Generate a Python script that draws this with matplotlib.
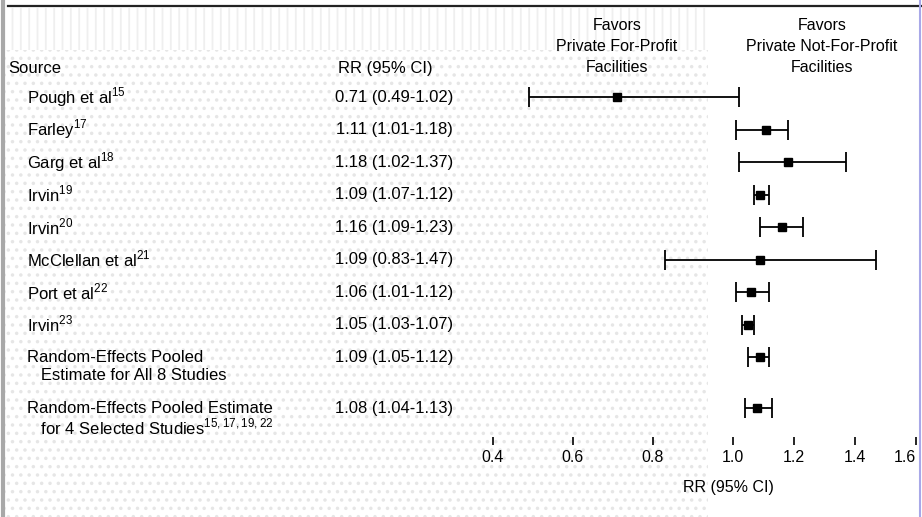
import numpy as np
import matplotlib
matplotlib.use("Agg")
import matplotlib.pyplot as plt
from matplotlib.patches import Rectangle
from matplotlib.lines import Line2D

plt.rcParams['font.family'] = ['Liberation Sans', 'DejaVu Sans']
plt.rcParams['mathtext.fontset'] = 'custom'
plt.rcParams['mathtext.rm'] = 'Liberation Sans'
plt.rcParams['hatch.linewidth'] = 1.3

# data
sources = [r"Pough et al$^{\mathrm{15}}$", r"Farley$^{\mathrm{17}}$", r"Garg et al$^{\mathrm{18}}$",
           r"Irvin$^{\mathrm{19}}$", r"Irvin$^{\mathrm{20}}$", r"McClellan et al$^{\mathrm{21}}$",
           r"Port et al$^{\mathrm{22}}$", r"Irvin$^{\mathrm{23}}$",
           "Random-Effects Pooled\n   Estimate for All 8 Studies",
           "Random-Effects Pooled Estimate\n   for 4 Selected Studies$^{\\mathrm{15,17,19,22}}$"]
rr = np.array([0.71, 1.11, 1.18, 1.09, 1.16, 1.09, 1.06, 1.05, 1.09, 1.08])
lo = np.array([0.49, 1.01, 1.02, 1.07, 1.09, 0.83, 1.01, 1.03, 1.05, 1.04])
hi = np.array([1.02, 1.18, 1.37, 1.12, 1.23, 1.47, 1.12, 1.07, 1.12, 1.13])
ticks = [0.4, 0.6, 0.8, 1.0, 1.2, 1.4, 1.6]
tick_labels = ["0.4", "0.6", "0.8", "1.0", "1.2", "1.4", "1.6"]

ypos = np.array(list(range(9)) + [9.57])

W, H = 922, 517
fig = plt.figure(figsize=(W / 100, H / 100), dpi=100)
ax = fig.add_axes([0, 0, 1, 1])
ax.patch.set_alpha(0)

# background texture of the scan
fig.add_artist(Rectangle((5 / W, 1 - 50 / H), 703 / W, 42 / H, transform=fig.transFigure,
                         facecolor='white', edgecolor='#efefef', hatch='||', lw=0, zorder=-2))
fig.add_artist(Rectangle((5 / W, 0), 703 / W, 1 - 50 / H, transform=fig.transFigure,
                         facecolor='white', edgecolor='#e6e6e6', hatch='..', lw=0, zorder=-2))
fig.add_artist(Line2D([8 / W, 1], [1 - 6 / H] * 2, transform=fig.transFigure, color='#222222', lw=1.6))
fig.add_artist(Line2D([2.5 / W] * 2, [0, 1], transform=fig.transFigure, color='#a8a8a8', lw=3))
fig.add_artist(Line2D([920 / W] * 2, [0, 1], transform=fig.transFigure, color='#a8a8e8', lw=1.5))

# piecewise scale: left of 1.0 is stretched
K = 1.31


def fwd(x):
    x = np.asarray(x, float)
    return np.where(x < 1, (x - 1) * K, x - 1)


def inv(y):
    y = np.asarray(y, float)
    return np.where(y < 0, y / K + 1, y + 1)


ax.set_xscale('function', functions=(fwd, inv))
ax.set_xlim(-0.833, 1.62)
ax.set_ylim(12.92, -2.985)

ax.errorbar(rr, ypos, xerr=[rr - lo, hi - rr], fmt='s', color='black', ms=6,
            capsize=7, elinewidth=1.3, capthick=1.3)

ax.set_xticks(ticks)
ax.set_xticklabels(tick_labels)
ax.set_yticks([])
ax.tick_params(axis='x', direction='out', length=6, width=1.2, pad=3, labelsize=11.5)
for s in ax.spines.values():
    s.set_visible(False)
ax.spines['bottom'].set_position(('axes', (H - 437) / H))

tr = ax.get_yaxis_transform()
fs = 12
ax.text(8 / W, -0.89, "Source", transform=tr, ha='left', va='center', fontsize=fs)
ax.text(385 / W, -0.89, "RR (95% CI)", transform=tr, ha='center', va='center', fontsize=fs)
for i in range(len(sources)):
    lines = sources[i].split("\n")
    for j, ln in enumerate(lines):
        ax.text(27 / W, ypos[i] + j * 0.57, ln, transform=tr, ha='left', va='center', fontsize=fs)
    ax.text(453 / W, ypos[i], f"{rr[i]:.2f} ({lo[i]:.2f}-{hi[i]:.2f})", transform=tr,
            ha='right', va='center', fontsize=fs)

ax.text(617 / W, -1.54, "Favors\nPrivate For-Profit\nFacilities", transform=tr,
        ha='center', va='center', fontsize=11.5, linespacing=1.5)
ax.text(822 / W, -1.54, "Favors\nPrivate Not-For-Profit\nFacilities", transform=tr,
        ha='center', va='center', fontsize=11.5, linespacing=1.5)
ax.text(728 / W, 12.0, "RR (95% CI)", transform=tr, ha='center', va='center', fontsize=11.5)

# keep the last tick label inside the figure
fig.canvas.draw()
ax.xaxis.get_majorticklabels()[-1].set_horizontalalignment('right')

fig.savefig("out.png", dpi=100)
